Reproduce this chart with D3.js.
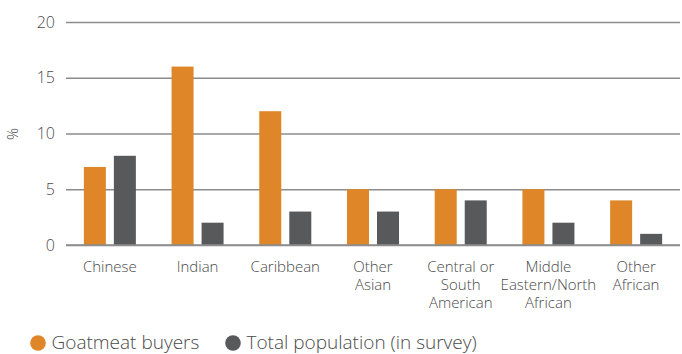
<!DOCTYPE html>
<html>
<head>
<meta charset="utf-8">
<script src="https://cdn.jsdelivr.net/npm/d3@7"></script>
<style>
  html, body { margin: 0; padding: 0; background: #fff; }
  text { font-family: "Open Sans", Lato, sans-serif; font-weight: 300; fill: #4a4a4a; }
</style>
</head>
<body>
<svg id="chart" width="682" height="354"></svg>
<script>
const categories = [
  ["Chinese"],
  ["Indian"],
  ["Caribbean"],
  ["Other", "Asian"],
  ["Central or", "South", "American"],
  ["Middle", "Eastern/North", "African"],
  ["Other", "African"]
];
const seriesNames = ["Goatmeat buyers", "Total population (in survey)"];
const goatmeatBuyers = [7, 16, 12, 5, 5, 5, 4];
const totalPopulation = [8, 2, 3, 3, 4, 2, 1];
const yTicks = [0, 5, 10, 15, 20];
const colors = ["#DE8628", "#58595B"];

const svg = d3.select("#chart");
const catKeys = categories.map(c => c.join(" "));
const x0 = d3.scaleBand().domain(catKeys).range([66, 680]).paddingInner(0.407).paddingOuter(0.2035);
const x1 = d3.scaleBand().domain(seriesNames).range([0, x0.bandwidth()]).paddingInner(0.267);
const y = d3.scaleLinear().domain([0, 20]).range([245, 22]);

// gridlines
const yAxis = d3.axisLeft(y).tickValues(yTicks).tickSize(-(680 - 66)).tickPadding(11);
const gy = svg.append("g").attr("transform", "translate(66,0)").call(yAxis);
gy.select(".domain").remove();
gy.selectAll(".tick line").attr("stroke", "#8c8c8c").attr("stroke-width", 1.4);
gy.selectAll(".tick text").style("font-size", "16px").attr("fill", "#4a4a4a");

// y label
svg.append("text").attr("transform", "translate(18,134) rotate(-90)")
  .attr("text-anchor", "middle").style("font-size", "15px").text("%");

// bars
const seriesVals = [goatmeatBuyers, totalPopulation];
seriesVals.forEach((vals, si) => {
  svg.append("g").selectAll("rect").data(vals).join("rect")
    .attr("x", (d, i) => x0(catKeys[i]) + x1(seriesNames[si]))
    .attr("y", d => y(d))
    .attr("width", x1.bandwidth())
    .attr("height", d => y(0) - y(d))
    .attr("fill", colors[si]);
});

// baseline on top
svg.append("line").attr("x1", 66).attr("x2", 680).attr("y1", y(0)).attr("y2", y(0))
  .attr("stroke", "#8c8c8c").attr("stroke-width", 1.4);

// x labels
const xl = svg.append("g");
categories.forEach((lines, i) => {
  const cx = x0(catKeys[i]) + x0.bandwidth() / 2;
  lines.forEach((ln, j) => {
    xl.append("text").attr("text-anchor", "middle").style("font-size", "15px")
      .attr("x", cx).attr("y", 271.5 + j * 18).text(ln);
  });
});

// legend
const legX = [38, 233];
seriesNames.forEach((n, i) => {
  svg.append("circle").attr("cx", legX[i]).attr("cy", 343).attr("r", 7.8).attr("fill", colors[i]);
  svg.append("text").attr("x", legX[i] + 13.5).attr("y", 349).style("font-size", "19px").text(n);
});
</script>
</body>
</html>
